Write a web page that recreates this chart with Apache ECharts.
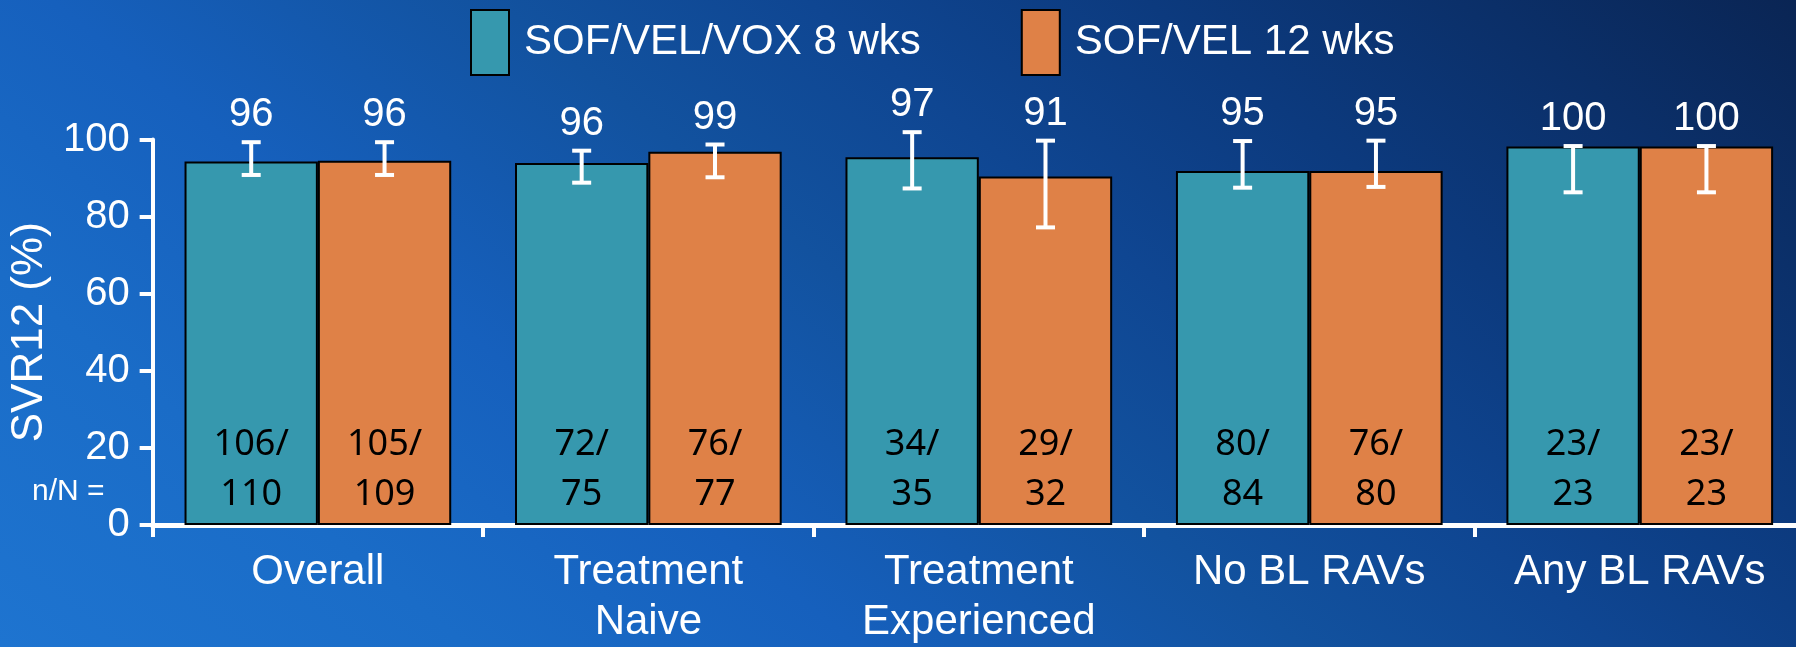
<!DOCTYPE html>
<html>
<head>
<meta charset="utf-8">
<script src="https://cdn.jsdelivr.net/npm/echarts@6/dist/echarts.min.js"></script>
<style>
html,body{margin:0;padding:0;background:#0f4a98;overflow:hidden;width:1796px;height:647px;}
#c{width:1805px;height:647px;}
</style>
</head>
<body>
<div id="c"></div>
<script>
// ---- data ----
const categories = ['Overall', 'Treatment\nNaive', 'Treatment\nExperienced', 'No BL RAVs', 'Any BL RAVs'];
const seriesNames = ['SOF/VEL/VOX 8 wks', 'SOF/VEL 12 wks'];
// bar heights as drawn (% SVR12)
const barVox = [94.3, 93.9, 95.4, 91.8, 98.2];
const barVel = [94.5, 96.8, 90.4, 91.8, 98.2];
// error bar limits
const errLowVox  = [90.8, 88.8, 87.3, 87.5, 86.3];
const errHighVox = [99.3, 97.1, 101.9, 99.6, 98.3];
const errLowVel  = [90.8, 90.2, 77.2, 87.7, 86.3];
const errHighVel = [99.3, 98.7, 99.7, 99.7, 98.3];
// value labels above error bars
const pctVox = ['96', '96', '97', '95', '100'];
const pctVel = ['96', '99', '91', '95', '100'];
// n/N
const nVox = ['106', '72', '34', '80', '23'];
const NVox = ['110', '75', '35', '84', '23'];
const nVel = ['105', '76', '29', '76', '23'];
const NVel = ['109', '77', '32', '80', '23'];
const yTicks = [0, 20, 40, 60, 80, 100];

// ---- styles ----
const TEAL = '#3698ae';
const ORANGE = '#df8147';
const CAT_GAP = 0.193;
const SANS = '"Liberation Sans", Arial, sans-serif';

function errSeries(idx, lows, highs, labels) {
  const data = lows.map((l, i) => [i, l, highs[i]]);
  return {
    type: 'custom',
    z: 10,
    data: data,
    encode: { x: 0, y: [1, 2] },
    renderItem: function (params, api) {
      const ci = api.value(0);
      const lo = api.coord([ci, api.value(1)]);
      const hi = api.coord([ci, api.value(2)]);
      const band = api.size([1, 0])[0];
      const barW = band * (1 - CAT_GAP) / 2;
      const x = lo[0] + (idx === 0 ? -barW / 2 : barW / 2);
      const cap = 19;
      const st = { stroke: '#ffffff', lineWidth: 4 };
      return {
        type: 'group',
        children: [
          { type: 'line', shape: { x1: x, y1: hi[1], x2: x, y2: lo[1] }, style: st },
          { type: 'line', shape: { x1: x - cap / 2, y1: hi[1], x2: x + cap / 2, y2: hi[1] }, style: st },
          { type: 'line', shape: { x1: x - cap / 2, y1: lo[1], x2: x + cap / 2, y2: lo[1] }, style: st },
          { type: 'text', style: { text: labels[params.dataIndex], x: x, y: hi[1] - 27,
              textAlign: 'center', textVerticalAlign: 'middle', fill: '#ffffff',
              font: '40px ' + SANS } }
        ]
      };
    }
  };
}

function barSeries(name, values, color, ns, Ns) {
  return {
    name: name,
    type: 'bar',
    data: values,
    barGap: '0%',
    barCategoryGap: (CAT_GAP * 100) + '%',
    itemStyle: { color: color, borderColor: '#000000', borderWidth: 2 },
    label: {
      show: true,
      position: 'insideBottom',
      distance: 5,
      formatter: p => ns[p.dataIndex] + '/\n' + Ns[p.dataIndex],
      color: '#000000',
      fontFamily: '"Noto Sans", sans-serif',
      fontSize: 36,
      lineHeight: 50
    }
  };
}

const chart = echarts.init(document.getElementById('c'));
chart.setOption({
  backgroundColor: {
    type: 'linear', global: true, x: 0, y: 647, x2: 1016, y2: -624,
    colorStops: [
      { offset: 0, color: '#1e74d0' },
      { offset: 0.18, color: '#1a6cc7' },
      { offset: 0.33, color: '#1660bd' },
      { offset: 0.5, color: '#12529f' },
      { offset: 0.62, color: '#0f4692' },
      { offset: 0.75, color: '#0c3a7e' },
      { offset: 1, color: '#0a2554' }
    ]
  },
  animation: false,
  textStyle: { fontFamily: SANS },
  legend: {
    left: 470, top: 9, padding: 0,
    itemWidth: 38, itemHeight: 65, itemGap: 100,
    icon: 'rect',
    textStyle: { color: '#ffffff', fontSize: 42, fontFamily: SANS, padding: [0, 0, 0, 10] },
    data: seriesNames
  },
  grid: { left: 150, right: 0, top: 139.5, bottom: 120 },
  xAxis: {
    type: 'category',
    data: categories,
    axisLine: { lineStyle: { color: '#ffffff', width: 5 } },
    axisTick: { show: true, length: 12, lineStyle: { color: '#ffffff', width: 4 } },
    axisLabel: { color: '#ffffff', fontSize: 42, lineHeight: 50, margin: 22, fontFamily: SANS, interval: 0 }
  },
  yAxis: {
    type: 'value',
    min: yTicks[0], max: yTicks[yTicks.length - 1], interval: 20,
    name: 'SVR12 (%)',
    nameLocation: 'middle',
    nameRotate: 90,
    nameGap: 92,
    nameTextStyle: { color: '#ffffff', fontSize: 44, fontFamily: SANS },
    splitLine: { show: false },
    axisLine: { show: true, lineStyle: { color: '#ffffff', width: 4 } },
    axisTick: { show: true, length: 13, lineStyle: { color: '#ffffff', width: 4 } },
    axisLabel: { color: '#ffffff', fontSize: 40, margin: 23, fontFamily: SANS }
  },
  graphic: [
    { type: 'text', x: 32, y: 492,
      style: { text: 'n/N =', fill: '#ffffff', font: '30px ' + SANS, verticalAlign: 'middle' } }
  ],
  series: [
    barSeries(seriesNames[0], barVox, TEAL, nVox, NVox),
    barSeries(seriesNames[1], barVel, ORANGE, nVel, NVel),
    errSeries(0, errLowVox, errHighVox, pctVox),
    errSeries(1, errLowVel, errHighVel, pctVel)
  ]
});
</script>
</body>
</html>
